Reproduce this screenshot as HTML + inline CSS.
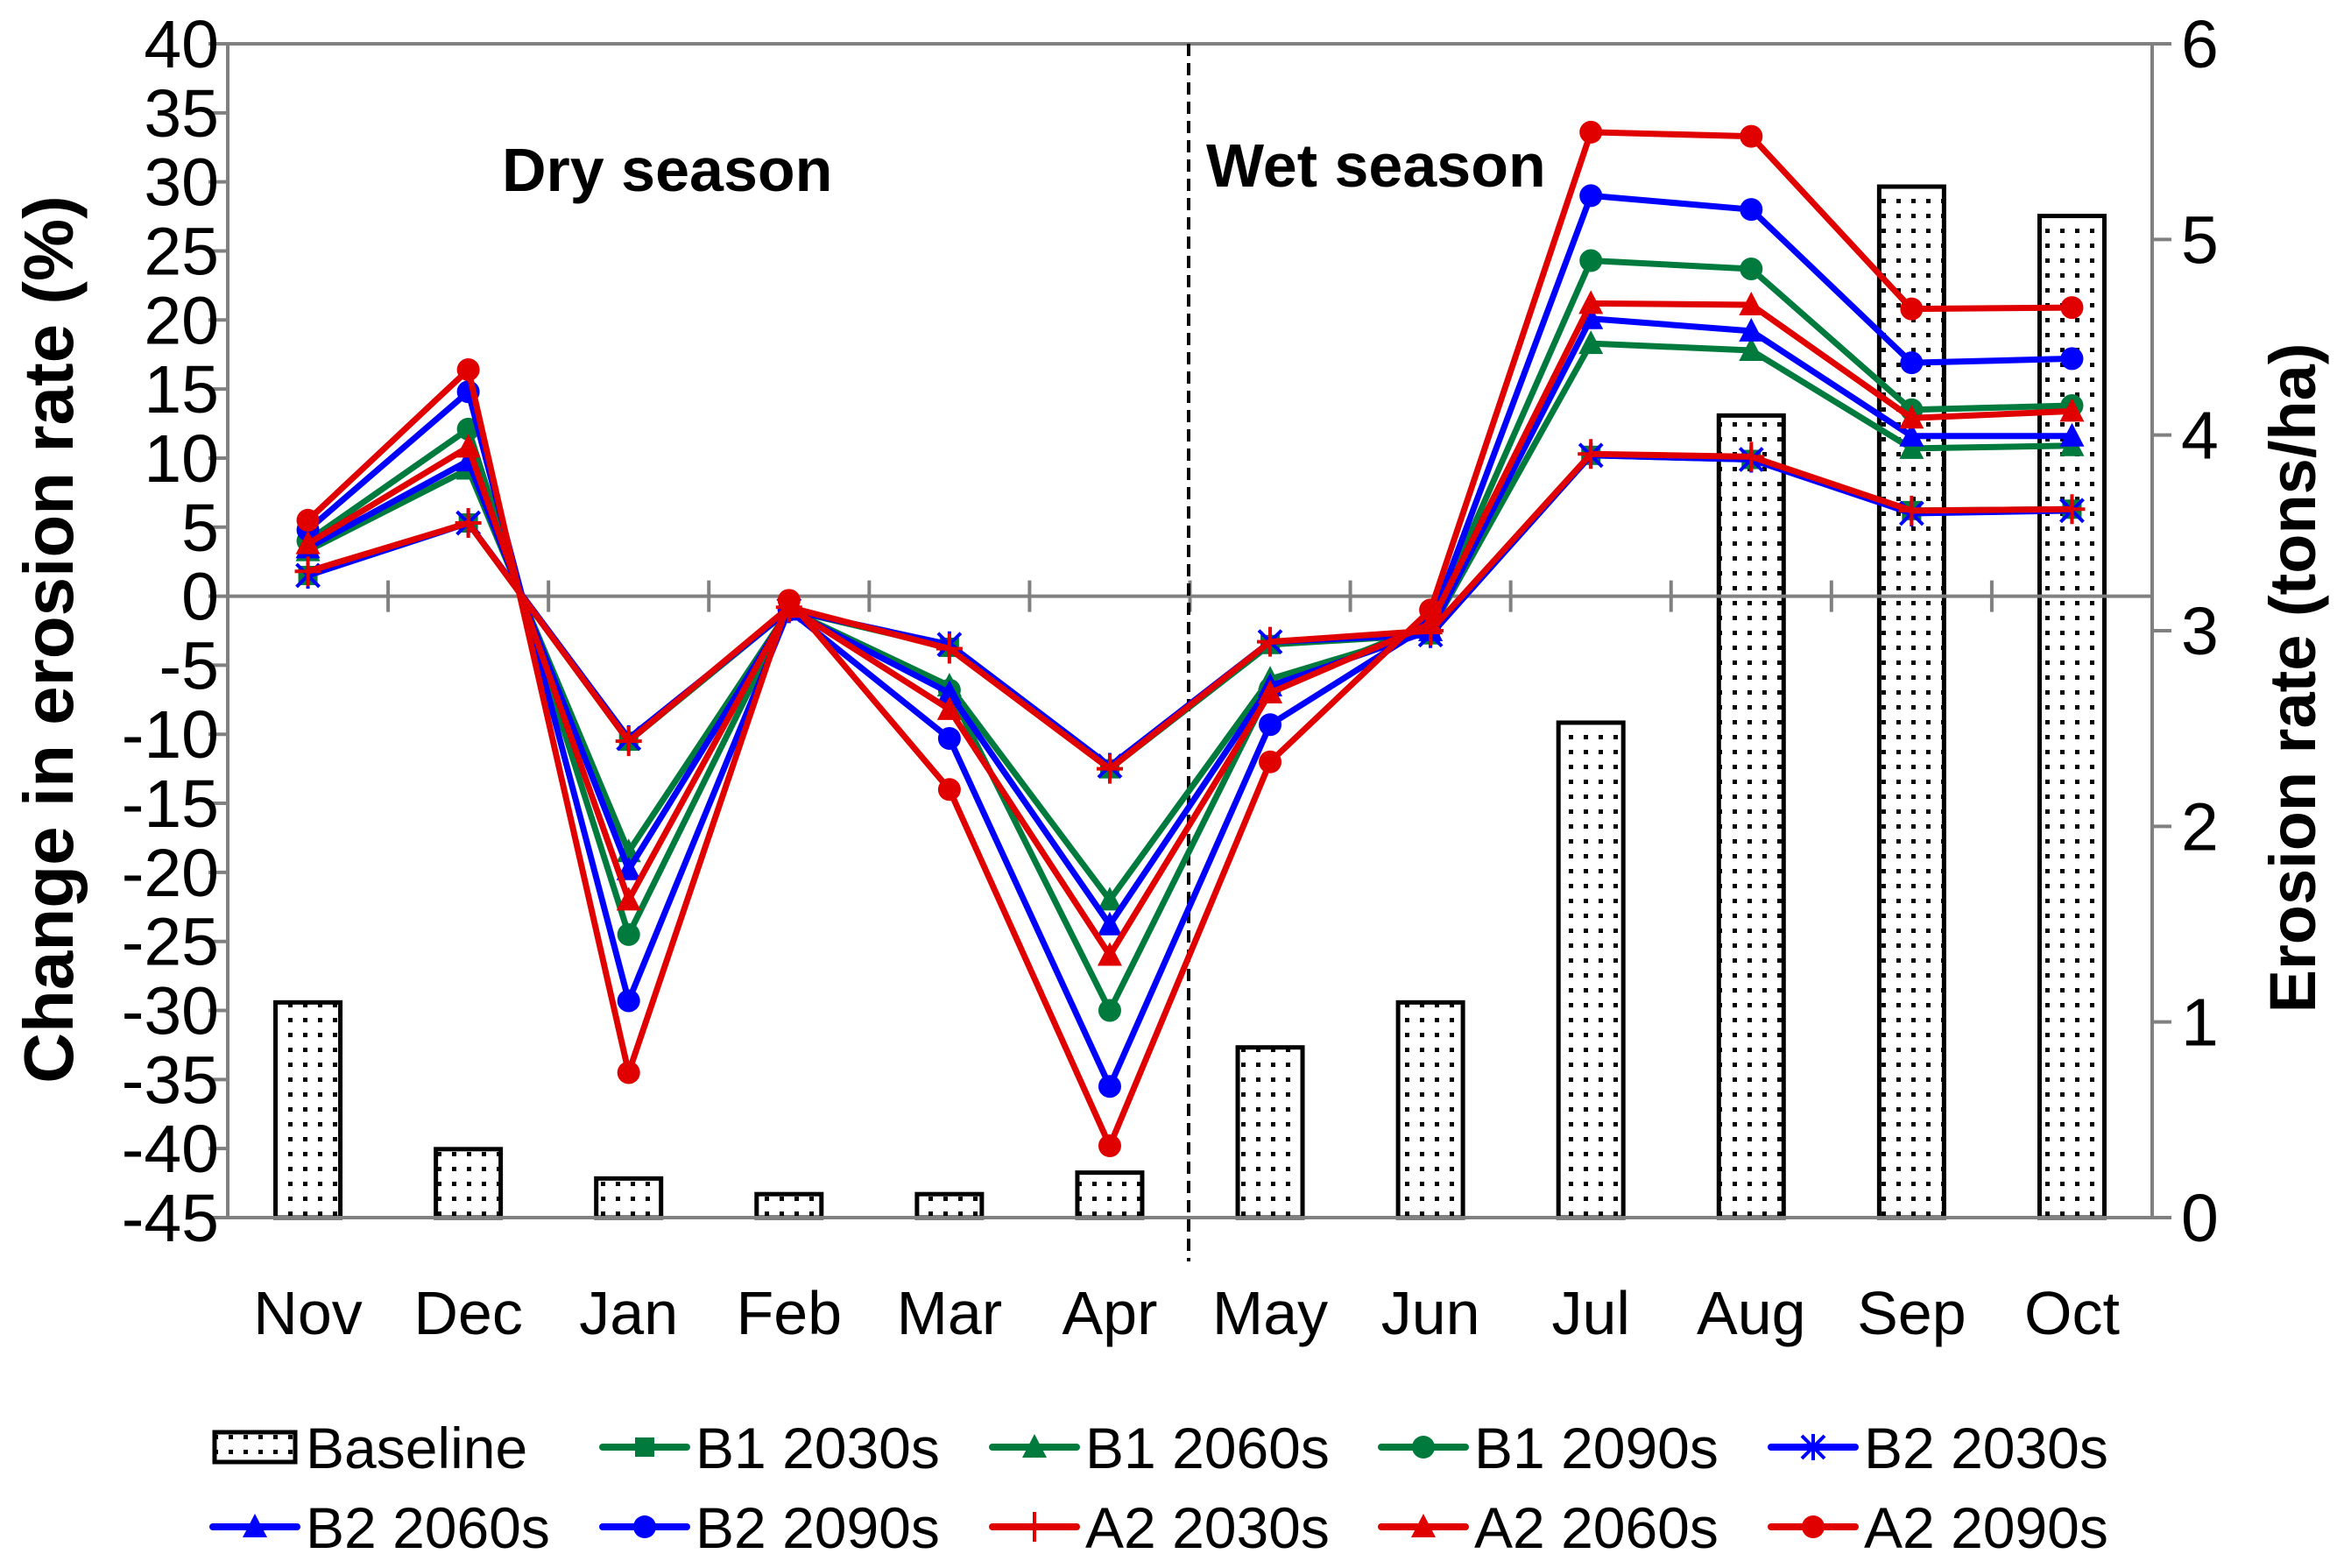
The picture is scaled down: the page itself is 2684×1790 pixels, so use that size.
<!DOCTYPE html>
<html><head><meta charset="utf-8"><style>
html,body{margin:0;padding:0;background:#fff;}
svg{display:block;font-family:"Liberation Sans",Arial,sans-serif;}
</style></head><body>
<svg id="chart" width="2684" height="1790" viewBox="0 0 2684 1790" xmlns="http://www.w3.org/2000/svg">
<defs>
<pattern id="dots" width="17" height="17" patternUnits="userSpaceOnUse">
<rect width="17" height="17" fill="#fff"/><rect x="6" y="6" width="5" height="5" fill="#000"/>
</pattern>
</defs>
<g id="bars"></g>
<g id="axes"></g>
<g id="lines"></g>
<g id="labels"></g>
<g id="legend"></g>
</svg>
<script>
const months = ["Nov","Dec","Jan","Feb","Mar","Apr","May","Jun","Jul","Aug","Sep","Oct"];
const baseline = [1.1,0.35,0.2,0.12,0.12,0.23,0.87,1.1,2.53,4.1,5.27,5.12];
const b1_2030 = [1.5,5.3,-10.5,-1,-3.7,-12.5,-3.5,-2.8,10.2,9.9,6.2,6.3];
const b2_2030 = [1.5,5.3,-10.3,-1,-3.5,-12.3,-3.3,-2.8,10.2,9.9,6.0,6.2];
const a2_2030 = [1.8,5.3,-10.5,-0.8,-3.8,-12.5,-3.3,-2.5,10.3,10.1,6.2,6.3];
const b1_2060 = [3.3,9.2,-18.5,-1,-6.5,-22,-6,-2.5,18.3,17.8,10.7,10.9];
const b2_2060 = [3.5,9.8,-19.8,-1,-7,-23.8,-6.5,-2.5,20.1,19.2,11.6,11.6];
const a2_2060 = [3.8,10.8,-22,-0.8,-8.2,-26,-7,-2,21.2,21.1,12.9,13.4];
const b1_2090 = [4.0,12.1,-24.5,-1,-6.8,-30,-6.7,-2,24.3,23.7,13.5,13.8];
const b2_2090 = [4.8,14.8,-29.3,-1,-10.3,-35.5,-9.3,-2,29,28,16.9,17.2];
const a2_2090 = [5.5,16.4,-34.5,-0.3,-14,-39.8,-12,-1,33.6,33.3,20.8,20.9];
const leftTicks = [40,35,30,25,20,15,10,5,0,-5,-10,-15,-20,-25,-30,-35,-40,-45];
const rightTicks = [0,1,2,3,4,5,6];

const NS="http://www.w3.org/2000/svg";
const L=260,R=2457,T=50,B=1390;
const bw=(R-L)/months.length;
const xc=i=>L+bw*(i+0.5);
const yL=v=>T+(40-v)/85*(B-T);
const yR=v=>B-v/6*(B-T);
function mk(tag,parent,attrs){const e=document.createElementNS(NS,tag);for(const k in attrs)e.setAttribute(k,attrs[k]);parent.appendChild(e);return e;}
const gb=document.getElementById('bars'),ga=document.getElementById('axes'),gl=document.getElementById('lines'),gt=document.getElementById('labels'),gg=document.getElementById('legend');

baseline.forEach((v,i)=>{
 const r=mk('rect',gb,{x:xc(i)-37,y:yR(v),width:74,height:B-yR(v),fill:'url(#dots)',stroke:'#000','stroke-width':5});
 
 
});
let e=mk('line',ga,{x1:L,y1:T,x2:R,y2:T,stroke:'#808080','stroke-width':4});

e=mk('line',ga,{x1:L,y1:T-2,x2:L,y2:B,stroke:'#808080','stroke-width':4});

e=mk('line',ga,{x1:R,y1:T-2,x2:R,y2:B,stroke:'#808080','stroke-width':4});

e=mk('line',ga,{x1:L-22,y1:B,x2:R+22,y2:B,stroke:'#808080','stroke-width':4});

e=mk('line',ga,{x1:L,y1:yL(0),x2:R,y2:yL(0),stroke:'#808080','stroke-width':4});

for(let i=1;i<months.length;i++){
 e=mk('line',ga,{x1:L+bw*i,y1:yL(0)-18,x2:L+bw*i,y2:yL(0)+18,stroke:'#808080','stroke-width':4});
 
}
leftTicks.forEach(v=>{
 e=mk('line',ga,{x1:L-22,y1:yL(v),x2:L,y2:yL(v),stroke:'#808080','stroke-width':4});
 
 e=mk('text',gt,{x:250,y:yL(v)+27,'text-anchor':'end','font-size':77});
 e.textContent=v;
 
});
rightTicks.forEach(v=>{
 e=mk('line',ga,{x1:R,y1:yR(v),x2:R+22,y2:yR(v),stroke:'#808080','stroke-width':4});
 
 e=mk('text',gt,{x:2490,y:yR(v)+27,'text-anchor':'start','font-size':77});
 e.textContent=v;
 
});
months.forEach((m,i)=>{
 e=mk('text',gt,{x:xc(i),y:1523,'text-anchor':'middle','font-size':70});
 e.textContent=m;
 
});
e=mk('line',ga,{x1:1357,y1:T,x2:1357,y2:1440,stroke:'#000','stroke-width':4,'stroke-dasharray':'14,8'});

e=mk('text',gt,{x:573,y:218,'font-size':70,'font-weight':'bold'});e.textContent='Dry season';

e=mk('text',gt,{x:1377,y:213,'font-size':70,'font-weight':'bold'});e.textContent='Wet season';

e=mk('text',gt,{x:0,y:0,'font-size':80,'font-weight':'bold','text-anchor':'middle',transform:'translate(83,730) rotate(-90)'});
e.textContent='Change in erosion rate (%)';

e=mk('text',gt,{x:0,y:0,'font-size':74,'font-weight':'bold','text-anchor':'middle',transform:'translate(2643,774) rotate(-90)'});
e.textContent='Erosion rate (tons/ha)';


const G='#007a3d',Bl='#0000ff',Rd='#e00000';
const series=[
 {n:'B1 2030s',d:b1_2030,c:G,m:'square'},
 {n:'B1 2060s',d:b1_2060,c:G,m:'tri'},
 {n:'B1 2090s',d:b1_2090,c:G,m:'circle'},
 {n:'B2 2030s',d:b2_2030,c:Bl,m:'star'},
 {n:'B2 2060s',d:b2_2060,c:Bl,m:'tri'},
 {n:'B2 2090s',d:b2_2090,c:Bl,m:'circle'},
 {n:'A2 2030s',d:a2_2030,c:Rd,m:'plus'},
 {n:'A2 2060s',d:a2_2060,c:Rd,m:'tri'},
 {n:'A2 2090s',d:a2_2090,c:Rd,m:'circle'}];
function marker(g,type,x,y,c){
 let el;
 if(type==='square')el=mk('rect',g,{x:x-11,y:y-11,width:22,height:22,fill:c});
 else if(type==='tri')el=mk('polygon',g,{points:`${x},${y-15} ${x-14},${y+12} ${x+14},${y+12}`,fill:c});
 else if(type==='circle')el=mk('circle',g,{cx:x,cy:y,r:13,fill:c});
 else if(type==='star'){el=mk('path',g,{d:`M${x-13} ${y-13}L${x+13} ${y+13}M${x-13} ${y+13}L${x+13} ${y-13}M${x} ${y-15}L${x} ${y+15}`,stroke:c,'stroke-width':4,fill:'none'});}
 else {el=mk('path',g,{d:`M${x-15} ${y}L${x+15} ${y}M${x} ${y-17}L${x} ${y+17}`,stroke:c,'stroke-width':4,fill:'none'});}
 
 
}
series.forEach(s=>{
 const g=mk('g',gl,{});
 
 
 const p=mk('polyline',g,{points:s.d.map((v,i)=>xc(i)+','+yL(v)).join(' '),fill:'none',stroke:s.c,'stroke-width':7,'stroke-linejoin':'round'});
 
 
 s.d.forEach((v,i)=>marker(g,s.m,xc(i),yL(v),s.c));
});
const legendItems=[{n:'Baseline'}].concat(series);
const colX=[243,688,1133,1577,2022];
legendItems.forEach((s,k)=>{
 const row=Math.floor(k/5),col=k%5,cy=row?1743:1652,x0=colX[col];
 const g=mk('g',gg,{});
 
 
 if(!s.d){mk('rect',g,{x:x0+2,y:cy-17,width:92,height:34,fill:'url(#dots)',stroke:'#000','stroke-width':5});}
 else{mk('line',g,{x1:x0,y1:cy,x2:x0+96,y2:cy,stroke:s.c,'stroke-width':8,'stroke-linecap':'round'});marker(g,s.m,x0+48,cy,s.c);}
 const t=mk('text',g,{x:x0+106,y:cy+24,'font-size':66});
 t.textContent=s.n;
});
</script>
</body></html>
